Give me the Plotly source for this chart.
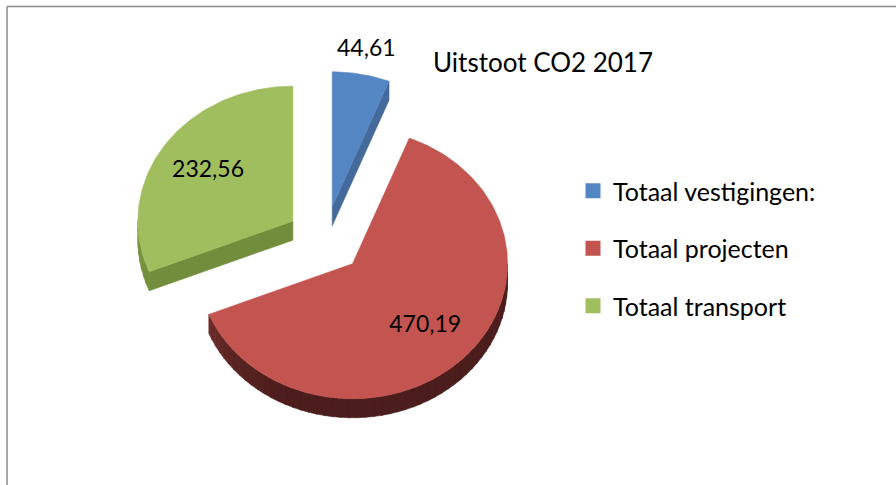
import math
import plotly.graph_objects as go

# ---------------- data ----------------
categories = ["Totaal vestigingen:", "Totaal projecten", "Totaal transport"]
values = [44.61, 470.19, 232.56]
value_labels = ["44,61", "470,19", "232,56"]
title_text = "Uitstoot CO2 2017"

# ---------------- style ----------------
top_colors = ["#5586C4", "#C4544F", "#A0BE5E"]
side_light = ["#4470A6", "#8A3A37", "#7A963F"]
side_dark = ["#3F6798", "#4B1D1C", "#6C8737"]
radial_colors = ["#44699B", "#6A2A28", "#728D3B"]
label_radius = [1.18, 0.66, 0.66]
FONT = "Lato"

W, H = 896, 485
CX, CY = 325, 240      # pie centre (pixel space)
A, B = 155, 135        # ellipse radii
EXPLODE = 0.25
DEPTH = 19


def ell(theta, cx, cy, r=1.0):
    t = math.radians(theta)
    return cx + A * r * math.sin(t), cy - B * r * math.cos(t)


def arc(t0, t1, cx, cy, n=None):
    if n is None:
        n = max(2, int(abs(t1 - t0) / 1.0) + 1)
    pts = [ell(t0 + (t1 - t0) * k / (n - 1), cx, cy) for k in range(n)]
    return pts


def mix(c1, c2, t):
    a = [int(c1[i:i + 2], 16) for i in (1, 3, 5)]
    b = [int(c2[i:i + 2], 16) for i in (1, 3, 5)]
    return "#" + "".join(f"{round(a[i] + (b[i] - a[i]) * t):02x}" for i in range(3))


def poly_trace(pts, color):
    xs = [p[0] for p in pts] + [pts[0][0]]
    ys = [p[1] for p in pts] + [pts[0][1]]
    return go.Scatter(x=xs, y=ys, mode="lines", fill="toself", fillcolor=color,
                      line=dict(width=0.6, color=color), hoverinfo="skip",
                      showlegend=False)


fig = go.Figure()

total = sum(values)
angles = []
acc = 0.0
for v in values:
    a0 = acc / total * 360
    acc += v
    a1 = acc / total * 360
    angles.append((a0, a1))

back_traces, front_traces, top_traces = [], [], []
label_pos = []
for i, (a0, a1) in enumerate(angles):
    mid = (a0 + a1) / 2
    ox, oy = ell(mid, CX, CY, EXPLODE)
    # radial faces
    for edge, psi in ((a0, a0 - 90), (a1, a1 + 90)):
        if math.cos(math.radians(psi)) < 0:
            rx, ry = ell(edge, ox, oy)
            pts = [(ox, oy), (rx, ry), (rx, ry + DEPTH), (ox, oy + DEPTH)]
            back_traces.append(poly_trace(pts, radial_colors[i]))
    # outer arc side (front half only)
    s0, s1 = max(a0, 90), min(a1, 270)
    if s1 > s0:
        nseg = max(1, int((s1 - s0) / 3))
        for k in range(nseg):
            g0 = s0 + (s1 - s0) * k / nseg
            g1 = s0 + (s1 - s0) * (k + 1) / nseg + 0.3
            g1 = min(g1, s1)
            gm = (g0 + g1) / 2
            t = min(1.0, max(0.0, (gm - 200) / 70)) ** 1.6
            col = mix(side_dark[i], side_light[i], t)
            top = arc(g0, g1, ox, oy, 6)
            bot = [(x, y + DEPTH) for x, y in reversed(top)]
            front_traces.append(poly_trace(top + bot, col))
    # top face
    pts = [(ox, oy)] + arc(a0, a1, ox, oy)
    top_traces.append(poly_trace(pts, top_colors[i]))
    label_pos.append(ell(mid, ox, oy, label_radius[i]))

for tr in back_traces + front_traces + top_traces:
    fig.add_trace(tr)

# data labels
fig.add_trace(go.Scatter(
    x=[p[0] for p in label_pos], y=[p[1] for p in label_pos],
    mode="text", text=value_labels,
    textfont=dict(family=FONT, size=23, color="#000000"),
    textposition="middle center", hoverinfo="skip", showlegend=False))

# legend entries
for i, name in enumerate(categories):
    fig.add_trace(go.Scatter(
        x=[None], y=[None], mode="markers", name=name, legendgroup=f"g{i}",
        marker=dict(symbol="square", size=15, color=top_colors[i])))

fig.update_layout(
    width=W, height=H,
    margin=dict(l=0, r=0, t=0, b=0),
    paper_bgcolor="white", plot_bgcolor="white",
    xaxis=dict(range=[0, W], visible=False, fixedrange=True),
    yaxis=dict(range=[H, 0], visible=False, fixedrange=True),
    showlegend=True,
    legend=dict(
        x=573 / W, y=1 - 168 / H, xanchor="left", yanchor="top",
        font=dict(family=FONT, size=25, color="#000000"),
        traceorder="grouped", tracegroupgap=22, itemsizing="trace",
        bgcolor="rgba(0,0,0,0)"),
    annotations=[dict(
        x=431, y=62, xref="x", yref="y", xanchor="left", yanchor="middle",
        text=title_text, showarrow=False,
        font=dict(family=FONT, size=26, color="#000000"))],
    shapes=[
        dict(type="line", x0=7, y0=6.5, x1=W, y1=6.5, xref="x", yref="y",
             line=dict(color="#8C8C8C", width=1.5)),
        dict(type="line", x0=7, y0=6.5, x1=7, y1=H, xref="x", yref="y",
             line=dict(color="#8C8C8C", width=1.5)),
    ],
)

fig.write_html("out.html")
